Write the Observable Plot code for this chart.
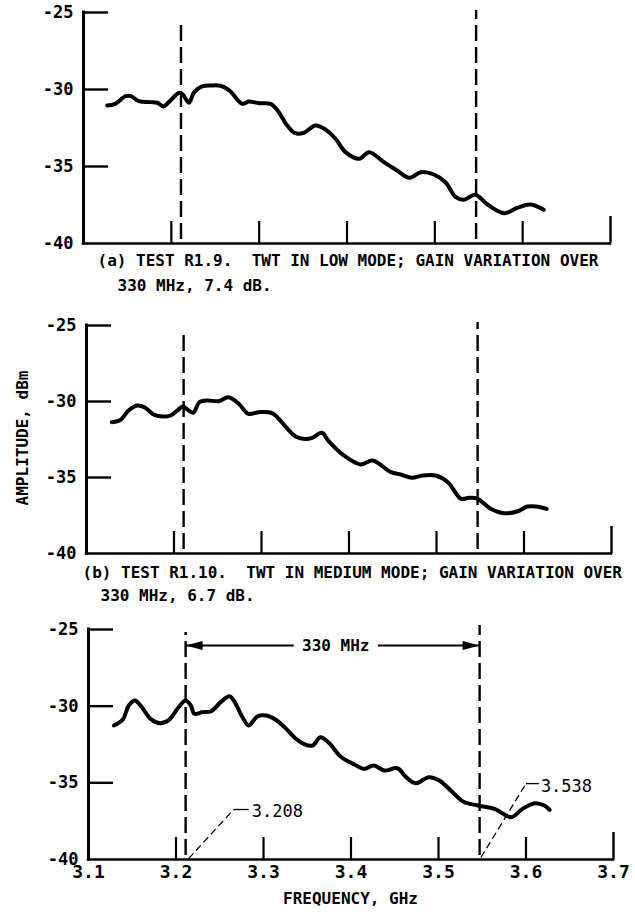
<!DOCTYPE html>
<html><head><meta charset="utf-8">
<script src="https://cdn.jsdelivr.net/npm/d3@7"></script>
<script src="https://cdn.jsdelivr.net/npm/@observablehq/plot@0.6"></script>
<style>
body{margin:0;background:#fff;}
#chart{position:relative;width:635px;height:917px;overflow:hidden;background:#fff;}
#chart svg{position:absolute;left:0;}
#chart text{white-space:pre;}
</style></head><body><div id="chart"></div>
<script>
const yTicks = [-25, -30, -35, -40];
const xTicks = [3.1, 3.2, 3.3, 3.4, 3.5, 3.6, 3.7];
const xTickLabels = ["3.1", "3.2", "3.3", "3.4", "3.5", "3.6", "3.7"];

// (a) low mode
const freqA = [3.127,3.136,3.148,3.154,3.163,3.176,3.184,3.191,3.199,3.209,3.213,3.220,3.226,3.235,3.245,3.256,3.266,3.281,3.288,3.300,3.313,3.321,3.332,3.341,3.351,3.364,3.376,3.387,3.398,3.414,3.425,3.442,3.457,3.471,3.484,3.499,3.512,3.524,3.533,3.546,3.560,3.579,3.594,3.609,3.624];
const ampA  = [-31.04,-30.93,-30.43,-30.43,-30.76,-30.82,-30.86,-31.10,-30.71,-30.21,-30.32,-30.86,-30.17,-29.80,-29.74,-29.76,-30.06,-30.93,-30.78,-30.89,-30.93,-31.36,-32.34,-32.84,-32.81,-32.34,-32.62,-33.20,-34.05,-34.50,-34.07,-34.72,-35.26,-35.73,-35.37,-35.52,-36.02,-36.99,-37.16,-36.84,-37.47,-38.03,-37.68,-37.47,-37.81];

// (b) medium mode
const freqB = [3.129,3.139,3.148,3.158,3.166,3.177,3.187,3.196,3.204,3.210,3.216,3.222,3.229,3.238,3.251,3.262,3.274,3.285,3.297,3.311,3.318,3.328,3.339,3.349,3.358,3.369,3.377,3.394,3.413,3.427,3.448,3.459,3.472,3.484,3.499,3.513,3.528,3.537,3.547,3.562,3.577,3.593,3.604,3.614,3.626];
const ampB  = [-31.36,-31.20,-30.59,-30.26,-30.37,-30.86,-30.99,-30.92,-30.59,-30.33,-30.55,-30.74,-30.05,-29.93,-29.98,-29.72,-30.15,-30.81,-30.70,-30.74,-31.03,-31.69,-32.30,-32.46,-32.39,-32.06,-32.63,-33.55,-34.14,-33.88,-34.65,-34.80,-35.02,-34.87,-34.87,-35.31,-36.40,-36.34,-36.40,-37.06,-37.35,-37.22,-36.91,-36.91,-37.06];

// (c)
const freqC = [3.129,3.139,3.146,3.153,3.161,3.171,3.182,3.192,3.203,3.211,3.217,3.221,3.230,3.240,3.251,3.261,3.266,3.276,3.283,3.293,3.303,3.314,3.326,3.337,3.346,3.356,3.365,3.375,3.388,3.404,3.415,3.426,3.438,3.453,3.463,3.474,3.489,3.501,3.514,3.528,3.545,3.564,3.583,3.596,3.610,3.621,3.627];
const ampC  = [-31.26,-30.89,-29.96,-29.63,-30.07,-30.83,-31.11,-30.89,-30.07,-29.63,-29.96,-30.50,-30.39,-30.33,-29.74,-29.35,-29.63,-30.72,-31.26,-30.67,-30.61,-30.89,-31.48,-32.13,-32.46,-32.57,-32.03,-32.41,-33.28,-33.81,-34.09,-33.87,-34.20,-34.05,-34.63,-35.03,-34.63,-34.85,-35.50,-36.22,-36.48,-36.70,-37.24,-36.70,-36.33,-36.48,-36.76];

const bandEdges = [3.211, 3.547];
const bandEdgeLabels = ["3.208", "3.538"];
const spanLabel = "330 MHz";
const captionA = ["(a) TEST R1.9.  TWT IN LOW MODE; GAIN VARIATION OVER", "330 MHz, 7.4 dB."];
const captionB = ["(b) TEST R1.10.  TWT IN MEDIUM MODE; GAIN VARIATION OVER", "330 MHz, 6.7 dB."];
const xTitle = "FREQUENCY, GHz";
const yTitle = "AMPLITUDE, dBm";

const FONT = "'DejaVu Sans Mono', 'Liberation Mono', monospace";

const leftHead = {draw(ctx) { ctx.moveTo(0, 0); ctx.lineTo(17, -4.5); ctx.lineTo(17, 4.5); ctx.closePath(); }};
const rightHead = {draw(ctx) { ctx.moveTo(0, 0); ctx.lineTo(-17, -4.5); ctx.lineTo(-17, 4.5); ctx.closePath(); }};

function panel({freq, amp, top, mt, mb, ml, mr, height, edgeTops, extra = [], showX = false}) {
  const frameH = height - mt - mb;
  const frameW = 635 - ml - mr;
  const dbPx = 15 / frameH;
  const ghzPx = 0.6 / frameW;
  const data = freq.map((f, i) => ({f, a: amp[i]}));
  const edges = bandEdges.map((x, i) => ({x, y1: -40 + 4 * dbPx, y2: edgeTops[i]}));
  const marks = [
    Plot.ruleX([3.1], {y1: -40, y2: -25, strokeWidth: 3, strokeLinecap: "square"}),
    Plot.ruleY([-40], {x1: 3.1, x2: 3.7, strokeWidth: 2.6, strokeLinecap: "square"}),
    Plot.ruleY(yTicks.slice(0, 3), {x1: 3.1, x2: 3.1 + 25 * ghzPx, strokeWidth: 2.4}),
    Plot.ruleX(xTicks.slice(1, 6), {y1: -40, y2: -40 + 22 * dbPx, strokeWidth: 2.2}),
    Plot.ruleX(xTicks.slice(6), {y1: -40, y2: -40 + 27 * dbPx, strokeWidth: 2.4}),
    Plot.ruleX(edges, {x: "x", y1: "y1", y2: "y2", strokeWidth: 2.4, strokeDasharray: "16,6"}),
    Plot.line(data, {x: "f", y: "a", stroke: "black", strokeWidth: 4, curve: "catmull-rom", strokeLinejoin: "round", strokeLinecap: "round"}),
    Plot.axisY({ticks: yTicks, tickSize: 0, tickPadding: 10, tickFormat: d => String(d), label: null, fontSize: 17, fontWeight: "bold"}),
    ...extra
  ];
  if (showX) marks.push(Plot.axisX({ticks: xTicks, tickSize: 0, tickPadding: 6, tickFormat: (d, i) => xTickLabels[i], label: null, fontSize: 18, fontWeight: "bold"}));
  const svg = Plot.plot({
    width: 635, height,
    marginTop: mt, marginBottom: mb, marginLeft: ml, marginRight: mr,
    x: {domain: [3.1, 3.7], axis: showX ? undefined : null},
    y: {domain: [-40, -25]},
    style: {fontFamily: FONT, fontSize: "16px", fontWeight: "bold", background: "transparent", color: "black", overflow: "visible"},
    marks
  });
  svg.style.top = top + "px";
  return svg;
}

function caption(lines, dxs, dys) {
  return lines.map((t, i) => Plot.text([t], {text: d => d, frameAnchor: "bottom-left", dx: dxs[i], dy: dys[i], textAnchor: "start", lineAnchor: "middle", fontSize: 16, fontWeight: "bold", fill: "black"}));
}

const root = document.getElementById("chart");

// Panel (a)
root.appendChild(panel({
  freq: freqA, amp: ampA, top: 0, mt: 12, mb: 55, ml: 83, mr: 25, height: 298,
  edgeTops: [-25.52, -24.87],
  extra: caption(captionA, [14, 34], [17, 42])
}));

// Panel (b)
const b_ghzPx = 0.6 / (635 - 86 - 24);
root.appendChild(panel({
  freq: freqB, amp: ampB, top: 298, mt: 27, mb: 50, ml: 86, mr: 24, height: 305,
  edgeTops: [-25.33, -24.8],
  extra: [
    ...caption(captionB, [-4, 14], [19, 42]),
    Plot.text([yTitle], {x: 3.1 - 64 * b_ghzPx, y: -32.4, text: d => d, rotate: -90, textAnchor: "middle", lineAnchor: "middle", fontSize: 16, fontWeight: "bold", fill: "black"})
  ]
}));

// Panel (c)
const spanY = -26.04;
const arrowSegs = [
  {x1: bandEdges[0], x2: 3.3346},
  {x1: 3.4307, x2: bandEdges[1]}
];
const heads = [
  {x: bandEdges[0], y: spanY, s: "l"},
  {x: bandEdges[1], y: spanY, s: "r"}
];
const callouts = [
  {x1: 3.2144, y1: -39.94, x2: 3.2659, y2: -36.74, dash: true},
  {x1: 3.2659, y1: -36.74, x2: 3.283, y2: -36.74, dash: false},
  {x1: 3.5485, y1: -39.87, x2: 3.600, y2: -35.05, dash: true},
  {x1: 3.600, y1: -35.05, x2: 3.6149, y2: -35.05, dash: false}
];
const calloutText = [
  {x: 3.2865, y: -36.87, t: bandEdgeLabels[0]},
  {x: 3.617, y: -35.24, t: bandEdgeLabels[1]}
];
root.appendChild(panel({
  freq: freqC, amp: ampC, top: 603, mt: 26, mb: 58, ml: 88, mr: 22, height: 314,
  edgeTops: [-25.2, -24.74], showX: true,
  extra: [
    Plot.link(arrowSegs, {x1: "x1", x2: "x2", y1: spanY, y2: spanY, strokeWidth: 2}),
    Plot.dot(heads.filter(d => d.s === "l"), {x: "x", y: "y", symbol: leftHead, fill: "black", stroke: "none"}),
    Plot.dot(heads.filter(d => d.s === "r"), {x: "x", y: "y", symbol: rightHead, fill: "black", stroke: "none"}),
    Plot.text([spanLabel], {x: 3.3826, y: spanY, text: d => d, fontSize: 16, fontWeight: "bold", fill: "black"}),
    Plot.link(callouts.filter(d => d.dash), {x1: "x1", y1: "y1", x2: "x2", y2: "y2", strokeWidth: 1.3, strokeDasharray: "7,4"}),
    Plot.link(callouts.filter(d => !d.dash), {x1: "x1", y1: "y1", x2: "x2", y2: "y2", strokeWidth: 1.3}),
    Plot.text(calloutText, {x: "x", y: "y", text: "t", textAnchor: "start", fontSize: 17, fill: "black", fontWeight: "normal"}),
    Plot.text([xTitle], {text: d => d, frameAnchor: "bottom", dx: 350 - (88 + (635 - 88 - 22) / 2), dy: 44, fontSize: 16, fontWeight: "bold", fill: "black"})
  ]
}));
</script>
</body></html>
